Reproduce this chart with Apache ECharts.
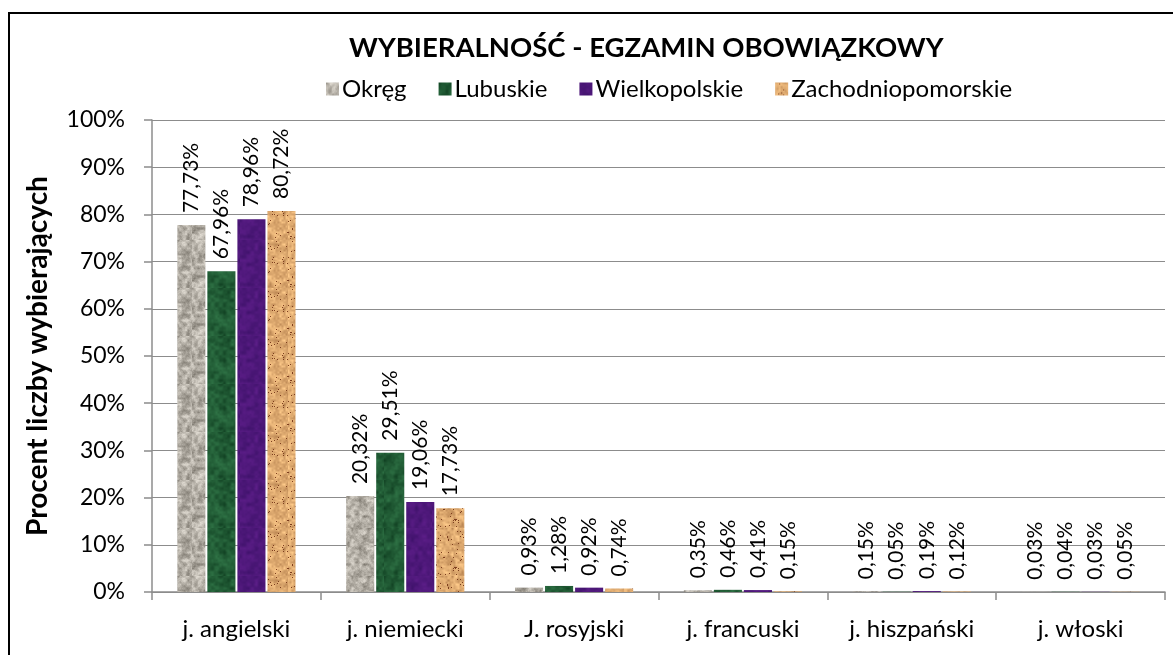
<!DOCTYPE html>
<html>
<head>
<meta charset="utf-8">
<script src="https://cdn.jsdelivr.net/npm/echarts@6/dist/echarts.min.js"></script>
<style>
html,body{margin:0;padding:0;background:#fff;}
#c{width:1173px;height:655px;}
</style>
</head>
<body>
<div id="c"></div>
<script>
// ---- data ----
const title = 'WYBIERALNOŚĆ - EGZAMIN OBOWIĄZKOWY';
const yAxisName = 'Procent liczby wybierających';
const categories = ['j. angielski', 'j. niemiecki', 'J. rosyjski', 'j. francuski', 'j. hiszpański', 'j. włoski'];
const seriesNames = ['Okręg', 'Lubuskie', 'Wielkopolskie', 'Zachodniopomorskie'];
const okreg = [77.73, 20.32, 0.93, 0.35, 0.15, 0.03];
const lubuskie = [67.96, 29.51, 1.28, 0.46, 0.05, 0.04];
const wielkopolskie = [78.96, 19.06, 0.92, 0.41, 0.19, 0.03];
const zachodniopomorskie = [80.72, 17.73, 0.74, 0.15, 0.12, 0.05];
const seriesValues = [okreg, lubuskie, wielkopolskie, zachodniopomorskie];

// ---- deterministic texture generation (hash noise, not data) ----
function hash(x, y, s) {
  let h = (x * 374761393 + y * 668265263 + s * 982451653) | 0;
  h = (h ^ (h >>> 13)) * 1274126177 | 0;
  h = h ^ (h >>> 16);
  return ((h >>> 0) % 10000) / 10000;
}
function smooth(x, y, s, cell) {
  const gx = Math.floor(x / cell), gy = Math.floor(y / cell);
  const fx = (x % cell) / cell, fy = (y % cell) / cell;
  const a = hash(gx, gy, s), b = hash(gx + 1, gy, s), c = hash(gx, gy + 1, s), d = hash(gx + 1, gy + 1, s);
  const u = fx * fx * (3 - 2 * fx), v = fy * fy * (3 - 2 * fy);
  return a * (1 - u) * (1 - v) + b * u * (1 - v) + c * (1 - u) * v + d * u * v;
}
function makeTexture(kind) {
  const N = 48;
  const cv = document.createElement('canvas');
  cv.width = N; cv.height = N;
  const ctx = cv.getContext('2d');
  const img = ctx.createImageData(N, N);
  for (let y = 0; y < N; y++) {
    for (let x = 0; x < N; x++) {
      const n1 = smooth(x, y, 1 + kind * 7, 4);
      const n3 = smooth(x, y, 3 + kind * 5, 2);
      const n2 = hash(x, y, 5 + kind * 11);
      let r, g, b;
      if (kind === 0) { // granite
        let t = 172 + (n1 - 0.5) * 60 + (n3 - 0.5) * 40 + (n2 - 0.5) * 16;
        r = t + 6; g = t + 1; b = t - 8;
      } else if (kind === 1) { // green marble
        let t = (n1 - 0.5) * 40 + (n3 - 0.5) * 12;
        r = 32 + t * 0.6; g = 90 + t; b = 52 + t * 0.7;
      } else if (kind === 2) { // purple
        let t = (n1 - 0.5) * 22 + (n3 - 0.5) * 6;
        r = 78 + t; g = 24 + t * 0.4; b = 122 + t;
      } else { // cork
        let t = (n1 - 0.5) * 40 + (n3 - 0.5) * 40;
        r = 222 + t; g = 170 + t; b = 112 + t * 0.8;
        if (n2 > 0.97) { r = 125; g = 62; b = 30; }
      }
      const i = (y * N + x) * 4;
      img.data[i] = Math.max(0, Math.min(255, r));
      img.data[i + 1] = Math.max(0, Math.min(255, g));
      img.data[i + 2] = Math.max(0, Math.min(255, b));
      img.data[i + 3] = 255;
    }
  }
  ctx.putImageData(img, 0, 0);
  return cv;
}
const textures = [0, 1, 2, 3].map(k => ({ image: makeTexture(k), repeat: 'repeat' }));

const FONT = 'Lato';
const chart = echarts.init(document.getElementById('c'), null, { renderer: 'canvas' });

const series = seriesNames.map((name, i) => ({
  name: name,
  type: 'bar',
  data: seriesValues[i],
  barGap: '7%',
  barCategoryGap: '30%',
  itemStyle: { color: textures[i] },
  label: {
    show: true,
    position: 'top',
    rotate: 90,
    align: 'left',
    verticalAlign: 'middle',
    distance: 12,
    color: '#000',
    fontFamily: FONT,
    fontSize: 21,
    formatter: p => p.value.toFixed(2).replace('.', ',') + '%'
  }
}));

chart.setOption({
  animation: false,
  backgroundColor: '#fff',
  title: {
    text: title,
    left: 344,
    top: 29,
    textStyle: { fontFamily: FONT, fontWeight: 'bold', fontSize: 27.5, color: '#000' }
  },
  legend: {
    data: seriesNames,
    left: 321,
    top: 72,
    icon: 'rect',
    itemWidth: 13,
    itemHeight: 13,
    itemGap: 32,
    textStyle: { fontFamily: FONT, fontSize: 24, color: '#000', padding: [0, 0, 0, -2] }
  },
  grid: { left: 152, right: 8, top: 120, bottom: 63, containLabel: false },
  xAxis: {
    type: 'category',
    data: categories,
    axisLine: { lineStyle: { color: '#8c8c8c', width: 1.5 } },
    axisTick: { show: true, length: 8, lineStyle: { color: '#8c8c8c', width: 1.5 } },
    axisLabel: { fontFamily: FONT, fontSize: 24, color: '#000', margin: 25 }
  },
  yAxis: {
    type: 'value',
    min: 0,
    max: 100,
    interval: 10,
    name: yAxisName,
    nameLocation: 'middle',
    nameGap: 100,
    nameRotate: 90,
    nameTextStyle: { fontFamily: FONT, fontWeight: 'bold', fontSize: 28, color: '#000' },
    axisLine: { show: true, lineStyle: { color: '#8c8c8c', width: 1.5 } },
    axisTick: { show: true, length: 8, lineStyle: { color: '#8c8c8c', width: 1.5 } },
    axisLabel: { fontFamily: FONT, fontSize: 23, color: '#000', margin: 27, formatter: '{value}%' },
    splitLine: { show: true, lineStyle: { color: '#8c8c8c', width: 1.2 } }
  },
  graphic: [{
    type: 'rect',
    shape: { x: 9, y: 13, width: 1200, height: 700 },
    style: { fill: 'none', stroke: '#000', lineWidth: 2 },
    silent: true
  }],
  series: series
});
</script>
</body>
</html>
